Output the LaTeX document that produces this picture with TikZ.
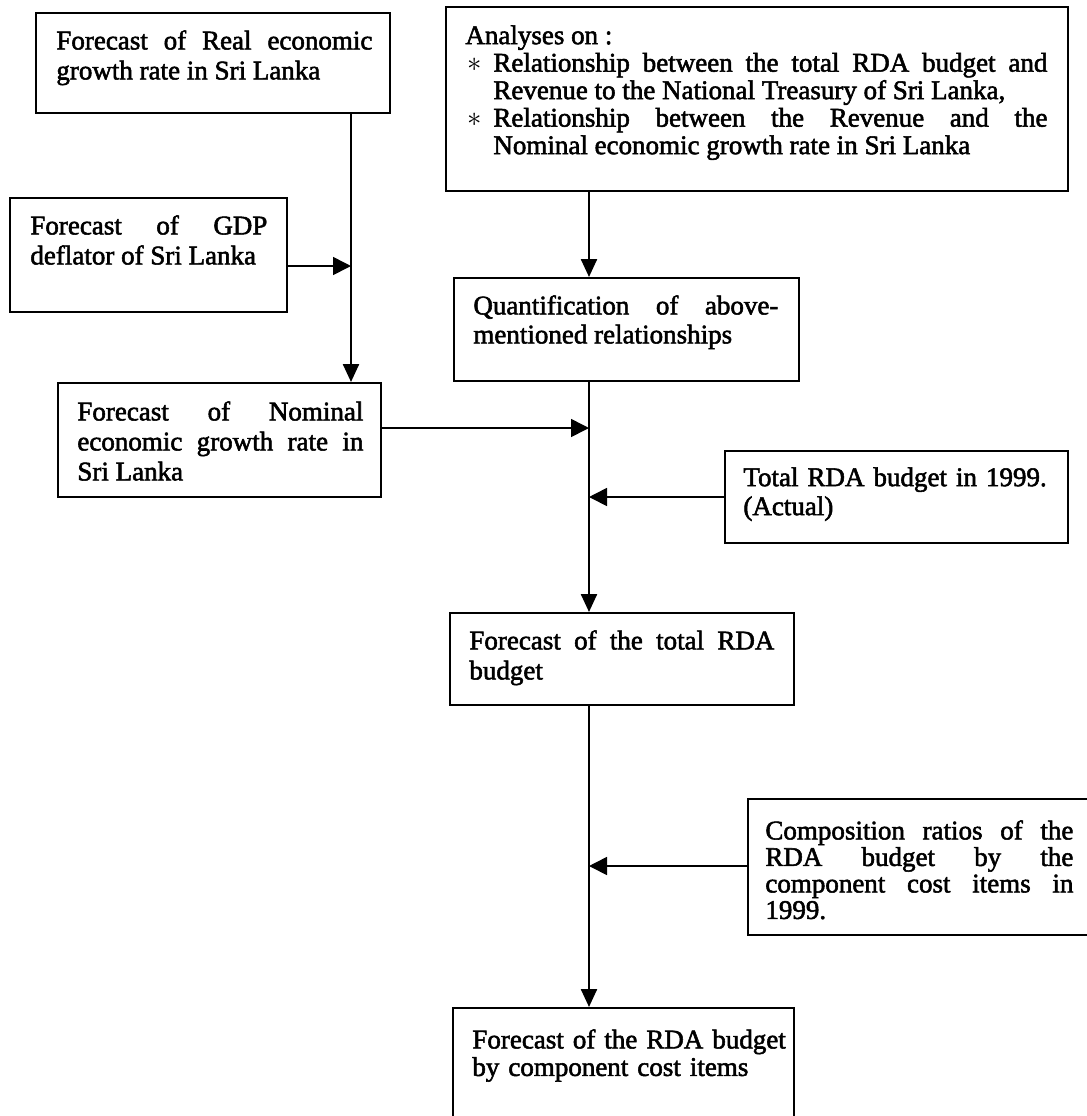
\documentclass[tikz,border=0pt]{standalone}
\usepackage{fontspec}
\setmainfont{Liberation Serif}[FakeBold=2]
\usetikzlibrary{arrows.meta,calc}
\begin{document}
\begin{tikzpicture}[x=0.5pt,y=-0.5pt,
  box/.style={draw, line width=1pt, inner sep=0pt, anchor=north west},
  txt/.style={inner sep=0pt, anchor=north west, align=justify, font=\fontsize{13.5}{13.75}\selectfont},
  txtw/.style={txt, font=\fontsize{13.5}{15}\selectfont},
  txtl/.style={txt, align=left},
  arr/.style={line width=1.2pt, -{Triangle[length=9pt,width=8pt]}},
  harr/.style={line width=0.8pt, -{Triangle[length=9pt,width=9pt]}}
]
\useasboundingbox (0,0) rectangle (1087,1116);
\fill[white] (0,0) rectangle (1087,1116);
\clip (0,0) rectangle (1087,1116);

% boxes
\node[box, minimum width=177pt, minimum height=50pt] (b1) at (35,12) {};
\node[box, minimum width=138.5pt, minimum height=57pt] (b2) at (9,197) {};
\node[box, minimum width=161.5pt, minimum height=57pt] (b3) at (57,382) {};
\node[box, minimum width=311pt, minimum height=92pt] (b4) at (445,6) {};
\node[box, minimum width=172.5pt, minimum height=51.5pt] (b5) at (453,277) {};
\node[box, minimum width=171.5pt, minimum height=46pt] (b6) at (724,450) {};
\node[box, minimum width=172pt, minimum height=46pt] (b7) at (449,612) {};
\node[box, minimum width=176.5pt, minimum height=68pt] (b8) at (747,798) {};
\node[box, minimum width=170.5pt, minimum height=70pt] (b9) at (452,1007) {};

% texts
\node[txtw, text width=158pt] (t1) at (56,30) {Forecast of Real economic\linebreak growth rate in Sri Lanka};
\node[txtw, text width=118.5pt] (t2) at (30,215) {Forecast of GDP\linebreak deflator of Sri Lanka};
\node[txtw, text width=143pt] (t3) at (77,401) {Forecast of Nominal\linebreak economic growth rate in\linebreak Sri Lanka};
\node[txt, text width=291pt] (t4) at (465,25) {Analyses on :\par
  {\leftskip=14pt\noindent\llap{\makebox[13pt][l]{$\ast$}}Relationship between the total RDA budget and\linebreak Revenue to the National Treasury of Sri Lanka,\par
  \noindent\llap{\makebox[13pt][l]{$\ast$}}Relationship between the Revenue and the\linebreak Nominal economic growth rate in Sri Lanka\par}};
\node[txt, text width=152.5pt, font=\fontsize{13.5}{14.5}\selectfont] (t5) at (473,295) {Quantification of above-\linebreak mentioned relationships};
\node[txtl, text width=165pt, font=\fontsize{13.5}{14.5}\selectfont] (t6) at (743,467) {Total RDA budget in 1999.\\(Actual)};
\node[txt, text width=152.5pt, font=\fontsize{13.5}{15}\selectfont] (t7) at (469,630) {Forecast of the total RDA\linebreak budget};
\node[txt, text width=154pt, font=\fontsize{13.5}{13.25}\selectfont] (t8) at (765,820) {Composition ratios of the\linebreak RDA budget by the\linebreak component cost items in\linebreak 1999.};
\node[txtl, text width=170pt] (t9) at (472,1029) {Forecast of the RDA budget\\by component cost items};

% junction coordinates
\coordinate (cA) at (351,266);
\coordinate (jN) at (589,428);
\coordinate (jT) at (589,497);
\coordinate (jC) at (589,866);

% connectors
\draw[arr] (b1.south -| cA) -- (b3.north -| cA);
\draw[harr] (b2.east |- cA) -- (cA);
\draw[harr] (b3.east |- jN) -- (jN);
\draw[arr] (b4.south -| jN) -- (b5.north -| jN);
\draw[arr] (b5.south -| jN) -- (b7.north -| jN);
\draw[harr] (b6.west |- jT) -- (jT);
\draw[arr] (b7.south -| jN) -- (b9.north -| jN);
\draw[harr] (b8.west |- jC) -- (jC);
\end{tikzpicture}
\end{document}
